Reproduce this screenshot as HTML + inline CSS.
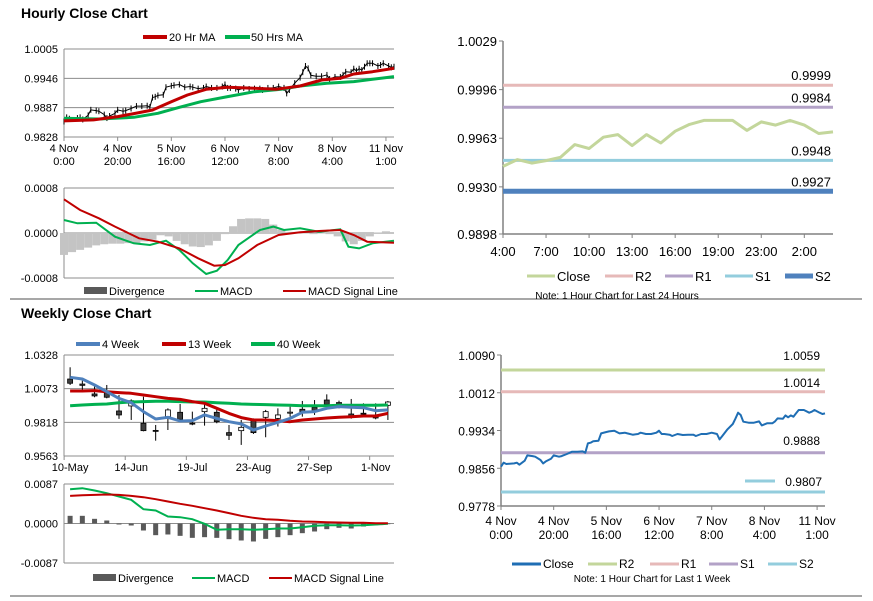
<!DOCTYPE html>
<html><head><meta charset="utf-8"><style>
html,body{margin:0;padding:0;background:#fff;}
svg{display:block;font-family:"Liberation Sans",Arial,sans-serif;}
</style></head><body>
<svg id="root" width="873" height="601" viewBox="0 0 873 601" xmlns="http://www.w3.org/2000/svg">
<text x="21" y="18" font-size="14" font-weight="bold" fill="#000">Hourly Close Chart</text>
<text x="21" y="318" font-size="14" font-weight="bold" fill="#000">Weekly Close Chart</text>
<line x1="10" y1="299" x2="862" y2="299" stroke="#8a8a8a" stroke-width="1.5"/>
<line x1="10" y1="596" x2="862" y2="596" stroke="#8a8a8a" stroke-width="1.5"/>
</svg>
<script>
// ===== Data: hourly (1 week) close =====
const hourIdx=[0,1,2,5,6,7,9,10,12,13,15,16,17,19,20,22,23,25,27,29,31,32,33,34,35,37,38,40,41,43,45,47,48,50,52,53,55,57,59,60,61,62,64,65,67,69,71,73,74,76,78,80,82,83,84,86,88,89,90,91,92,94,96,98,99,101,103,104,105,107,108,109,110,111,112,113,114,115,117,118,119,121,122,123];
const hourClose=[0.98592,0.98675,0.98647,0.98661,0.98675,0.98633,0.98716,0.98826,0.98812,0.98799,0.98730,0.98661,0.98702,0.98757,0.98826,0.98799,0.98812,0.98854,0.98902,0.98902,0.98909,0.98881,0.99074,0.99088,0.99116,0.99129,0.99281,0.99309,0.99322,0.99336,0.99281,0.99295,0.99281,0.99253,0.99267,0.99295,0.99267,0.99267,0.99295,0.99336,0.99267,0.99267,0.99253,0.99226,0.99267,0.99246,0.99253,0.99253,0.99226,0.99267,0.99267,0.99295,0.99267,0.99157,0.99226,0.99364,0.99474,0.99584,0.99708,0.99660,0.99522,0.99501,0.99501,0.99529,0.99446,0.99488,0.99488,0.99529,0.99591,0.99584,0.99653,0.99612,0.99653,0.99626,0.99694,0.99763,0.99763,0.99763,0.99708,0.99729,0.99763,0.99708,0.99681,0.99694];
const ma20Idx=[0,11,20,28,33,40,46,53,61,71,79,88,96,103,108,115,123];
const ma20Vals=[0.98603,0.98623,0.98690,0.98770,0.98824,0.98991,0.99125,0.99239,0.99280,0.99259,0.99239,0.99306,0.99427,0.99460,0.99547,0.99594,0.99661];
const ma50Idx=[0,13,26,35,43,51,61,71,81,88,98,108,115,123];
const ma50Vals=[0.98656,0.98643,0.98676,0.98757,0.98877,0.98991,0.99092,0.99192,0.99239,0.99306,0.99360,0.99394,0.99440,0.99494];
const hourTickIdx=[0,20,40,60,80,100,120];
const hourTickL1=["4 Nov","4 Nov","5 Nov","6 Nov","7 Nov","8 Nov","11 Nov"];
const hourTickL2=["0:00","20:00","16:00","12:00","8:00","4:00","1:00"];
const hPriceTicks=[1.0005,0.9946,0.9887,0.9828];
// hourly MACD
const sigIdx=[0,6,13,19,28,35,43,50,56,60,65,72,80,88,95,103,108,113,123];
const sigVals=[0.000599,0.000409,0.000261,0.000113,-0.000095,-0.000154,-0.000273,-0.00045,-0.000581,-0.000569,-0.00045,-0.000213,-0.000036,0.000012,0.000036,0.000053,-0.000036,-0.000154,-0.000172];
const macdIdx=[0,5,12,19,26,32,38,43,48,53,57,61,65,73,78,82,88,95,103,106,110,115,123];
const macdVals=[0.000231,0.000172,0.000184,-0.000065,-0.000184,-0.000213,-0.000136,-0.000302,-0.000539,-0.000729,-0.00067,-0.00048,-0.000213,0.000053,0.000113,0.000053,0.000083,0.000024,0.000065,-0.000243,-0.000273,-0.000184,-0.000136];
const divVals=[-0.00039,-0.00034,-0.00030,-0.00026,-0.00022,-0.0002,-0.00019,-0.00019,-0.00018,-0.00018,-0.00015,-0.00012,-0.00004,-0.00006,-0.00014,-0.0002,-0.00024,-0.00025,-0.00022,-0.00014,-0.00002,0.00012,0.00025,0.00026,0.00026,0.00025,0.00015,0.00006,0.00002,0.00002,-0.00001,-0.00002,-0.00001,-0.00002,-0.00006,-0.00015,-0.0002,-0.00014,-0.00006,0.00001,0.00003];
const hMacdTicks=[0.0008,0.0000,-0.0008];
const hMacdLabels=["0.0008","0.0000","-0.0008"];

// ===== Weekly =====
const weekLabels=["10-May","14-Jun","19-Jul","23-Aug","27-Sep","1-Nov"];
const weekLabelIdx=[0,5,10,15,20,25];
const wOpen=[1.0146,1.0108,1.0033,1.0043,0.9904,0.9942,0.9811,0.9757,0.9861,0.9894,0.9812,0.9899,0.9894,0.9740,0.9755,0.9836,0.9856,0.9848,0.9893,0.9917,0.9932,0.9987,0.9966,0.9881,0.9887,0.9866,0.9947];
const wClose=[1.0114,1.0098,1.0018,1.0008,0.9874,0.9982,0.9755,0.9753,0.9912,0.9841,0.9810,0.9924,0.9823,0.9720,0.9780,0.9740,0.9899,0.9874,0.9895,0.9899,0.9899,0.9954,0.9968,0.9856,0.9885,0.9851,0.9972];
const wHigh=[1.0235,1.0134,1.0108,1.0101,1.0025,0.9992,1.0012,0.9798,0.9924,0.9957,0.9899,0.9962,0.9924,0.9798,0.9836,0.9848,0.9912,0.9924,0.9937,0.9980,0.9987,1.0030,0.9982,0.9995,0.9962,0.9962,0.9980];
const wLow=[1.0101,1.0063,1.0008,1.0000,0.9844,0.9836,0.9750,0.9679,0.9760,0.9831,0.9796,0.9793,0.9811,0.9684,0.9647,0.9730,0.9705,0.9786,0.9861,0.9861,0.9874,0.9937,0.9924,0.9846,0.9861,0.9841,0.9836];
const ma4w=[1.0159,1.0146,1.0101,1.0050,0.9999,0.9967,0.9899,0.9843,0.9856,0.9828,0.9831,0.9874,0.9848,0.9823,0.9806,0.9760,0.9790,0.9818,0.9848,0.9894,0.9899,0.9924,0.9937,0.9932,0.9929,0.9906,0.9912];
const ma13w=[1.0055,1.0055,1.0058,1.0050,1.0043,1.0038,1.0025,1.0012,0.9999,0.9992,0.9975,0.9962,0.9924,0.9886,0.9854,0.9836,0.9836,0.9831,0.9823,0.9836,0.9843,0.9851,0.9856,0.9861,0.9866,0.9866,0.9886];
const ma40w=[0.9944,0.9949,0.9954,0.9957,0.9967,0.9972,0.9975,0.9977,0.9977,0.9975,0.9972,0.9972,0.9967,0.9962,0.9957,0.9954,0.9952,0.9949,0.9947,0.9944,0.9944,0.9944,0.9947,0.9947,0.9947,0.9947,0.9949];
const wPriceTicks=[1.0328,1.0073,0.9818,0.9563];
const wMacd=[0.00756,0.00778,0.00727,0.00668,0.00595,0.00521,0.00316,0.00286,0.00154,0.00139,0.00095,-0.00007,-0.00139,-0.00125,-0.00125,-0.00139,-0.00125,-0.0011,-0.0011,-0.00081,-0.00051,-0.00037,-0.00037,-0.00044,-0.00037,-0.00022,-0.00007];
const wSignal=[0.00609,0.00624,0.00631,0.00639,0.00631,0.00609,0.0058,0.00536,0.00484,0.00433,0.00389,0.00338,0.00286,0.00228,0.00169,0.00125,0.00095,0.00081,0.00059,0.00044,0.00037,0.00029,0.00022,0.00015,0.00015,0.00007,0.00007];
const wDiv=[0.00169,0.00169,0.00103,0.00066,-0.00022,-0.00044,-0.00154,-0.00257,-0.00242,-0.00272,-0.00316,-0.00301,-0.00316,-0.00345,-0.00374,-0.00396,-0.00338,-0.00301,-0.00257,-0.00213,-0.00176,-0.00125,-0.00095,-0.0011,-0.00066,-0.00037,-0.00015];
const wMacdTicks=[0.0087,0.0000,-0.0087];
const wMacdLabels=["0.0087","0.0000","-0.0087"];

// ===== 24h pivot chart =====
const dayClose=[0.99439,0.99485,0.99461,0.99478,0.99500,0.99587,0.99560,0.99637,0.99655,0.99580,0.99655,0.99598,0.99678,0.99724,0.99751,0.99751,0.99751,0.99683,0.99741,0.99719,0.99751,0.99719,0.99662,0.99673];
const dayTickLabels=["4:00","7:00","10:00","13:00","16:00","19:00","23:00","2:00"];
const dayTickIdx=[0,3,6,9,12,15,18,21];
const dayYTicks=[1.0029,0.9996,0.9963,0.9930,0.9898];
const dayLevels=[0.9999,0.9984,0.9948,0.9927];
const dayLevelNames=["R2","R1","S1","S2"];
// ===== 1 week pivot chart =====
const wkYTicks=[1.0090,1.0012,0.9934,0.9856,0.9778];
const wkLevels=[1.0059,1.0014,0.9888,0.9807];
const wkLevelNames=["R2","R1","S1","S2"];

const NS='http://www.w3.org/2000/svg';
const root=document.getElementById('root');
function mk(tag,attrs,parent){const e=document.createElementNS(NS,tag);for(const k in attrs)e.setAttribute(k,attrs[k]);(parent||root).appendChild(e);return e;}
function tx(str,x,y,size,anchor,parent){const e=mk('text',{x:x,y:y,'font-size':size,'text-anchor':anchor||'start',fill:'#000'},parent);e.textContent=str;return e;}
function pathFrom(xs,ys){let d='';for(let i=0;i<xs.length;i++)d+=(i?'L':'M')+xs[i].toFixed(1)+' '+ys[i].toFixed(1);return d;}
function fmt(v){return v.toFixed(4);}

// ---------- Hourly price chart ----------
(function(){
const g=mk('g',{});


const X0=64,X1=394,N=123,Y0=49,Y1=137,VMAX=1.0005,VMIN=0.9828;
const x=i=>X0+i*(X1-X0)/N, y=v=>Y0+(VMAX-v)/(VMAX-VMIN)*(Y1-Y0);
hPriceTicks.forEach(t=>{
  const l=mk('line',{x1:X0,x2:X1,y1:y(t),y2:y(t),stroke:'#8c8c8c','stroke-width':1},g);
  
  
  const lb=tx(fmt(t),58,y(t)+4,11,'end',g);
  
  
});
mk('line',{x1:X0,x2:X0,y1:Y0,y2:Y1,stroke:'#8c8c8c','stroke-width':1},g);
hourTickIdx.forEach((t,k)=>{
  mk('line',{x1:x(t),x2:x(t),y1:Y1,y2:Y1+4,stroke:'#8c8c8c'},g);
  const a=tx(hourTickL1[k],x(t),Y1+15,11,'middle',g);
  
  
  const b=tx(hourTickL2[k],x(t),Y1+28,11,'middle',g);
  
  
});
hourIdx.forEach((t,k)=>{
  const bar=mk('line',{x1:x(t),x2:x(t),y1:y(hourClose[k])-3,y2:y(hourClose[k])+3,stroke:'#000','stroke-width':1},g);
  
  
});
const cp=mk('path',{d:pathFrom(hourIdx.map(x),hourClose.map(y)),fill:'none',stroke:'#000','stroke-width':1},g);


const p50=mk('path',{d:pathFrom(ma50Idx.map(x),ma50Vals.map(y)),fill:'none',stroke:'#00b050','stroke-width':3,'stroke-linejoin':'round'},g);


const p20=mk('path',{d:pathFrom(ma20Idx.map(x),ma20Vals.map(y)),fill:'none',stroke:'#c00000','stroke-width':3,'stroke-linejoin':'round'},g);


// legend
const l1=mk('line',{x1:143,x2:167,y1:37,y2:37,stroke:'#c00000','stroke-width':4},g);


const t1=tx('20 Hr MA',169,41,11,'start',g);


const l2=mk('line',{x1:225,x2:250,y1:37,y2:37,stroke:'#00b050','stroke-width':4},g);


const t2=tx('50 Hrs MA',251,41,11,'start',g);


})();

// ---------- Hourly MACD ----------
(function(){
const g=mk('g',{});


const X0=64,X1=394,N=123,Y0=188,Y1=278,VMAX=0.0008,VMIN=-0.0008;
const x=i=>X0+i*(X1-X0)/N, y=v=>Y0+(VMAX-v)/(VMAX-VMIN)*(Y1-Y0);
hMacdTicks.forEach((t,k)=>{
  mk('line',{x1:X0,x2:X1,y1:y(t),y2:y(t),stroke:'#8c8c8c','stroke-width':1},g);
  const lb=tx(hMacdLabels[k],58,y(t)+4,11,'end',g);
  
  
});
mk('line',{x1:X0,x2:X0,y1:Y0,y2:Y1,stroke:'#8c8c8c'},g);
divVals.forEach((v,k)=>{
  const i=k*3;
  const r=mk('rect',{x:x(i)-4,width:8,y:Math.min(y(v),y(0)),height:Math.abs(y(v)-y(0)),fill:'#c4c4c4'},g);
  
  
});
const pm=mk('path',{d:pathFrom(macdIdx.map(x),macdVals.map(y)),fill:'none',stroke:'#00b050','stroke-width':2},g);


const ps=mk('path',{d:pathFrom(sigIdx.map(x),sigVals.map(y)),fill:'none',stroke:'#c00000','stroke-width':2},g);


const a=mk('rect',{x:84,y:287,width:23,height:7,fill:'#595959'},g);


const at=tx('Divergence',109,295,11,'start',g);


const b=mk('line',{x1:195,x2:218,y1:291,y2:291,stroke:'#00b050','stroke-width':2},g);


const bt=tx('MACD',220,295,11,'start',g);


const c=mk('line',{x1:283,x2:306,y1:291,y2:291,stroke:'#c00000','stroke-width':2},g);


const ct=tx('MACD Signal Line',308,295,11,'start',g);


})();

// ---------- Weekly price chart ----------
(function(){
const g=mk('g',{});


const X0=64,X1=394,N=27,Y0=355,Y1=456,VMAX=1.0328,VMIN=0.9563;
const x=i=>X0+(i+0.5)*(X1-X0)/N, y=v=>Y0+(VMAX-v)/(VMAX-VMIN)*(Y1-Y0);
wPriceTicks.forEach(t=>{
  mk('line',{x1:X0,x2:X1,y1:y(t),y2:y(t),stroke:'#8c8c8c','stroke-width':1},g);
  const lb=tx(fmt(t),58,y(t)+4,11,'end',g);
  
  
});
mk('line',{x1:X0,x2:X0,y1:Y0,y2:Y1,stroke:'#8c8c8c'},g);
weekLabelIdx.forEach((t,k)=>{
  mk('line',{x1:x(t)-6,x2:x(t)-6,y1:Y1,y2:Y1+4,stroke:'#8c8c8c'},g);
  const lb=tx(weekLabels[k],x(t),Y1+15,11,'middle',g);
  
  
});
wOpen.forEach((o,i)=>{
  const c=wClose[i];
  const w=mk('line',{x1:x(i),x2:x(i),y1:y(wHigh[i]),y2:y(wLow[i]),stroke:'#000','stroke-width':1},g);
  
  
  const top=y(Math.max(o,c)),bot=y(Math.min(o,c));
  const r=mk('rect',{x:x(i)-2.5,width:5,y:top,height:Math.max(1,bot-top),fill:c<o?'#404040':'#fff',stroke:'#000','stroke-width':0.8},g);
  
  
});
const idx=wOpen.map((_,i)=>i);
[[ma40w,'#00b050','ma-40-week-line'],[ma13w,'#c00000','ma-13-week-line'],[ma4w,'#4f81bd','ma-4-week-line']].forEach(s=>{
  const p=mk('path',{d:pathFrom(idx.map(x),s[0].map(y)),fill:'none',stroke:s[1],'stroke-width':3,'stroke-linejoin':'round'},g);
  
  
});
const leg=[[76,102,'#4f81bd','4 Week'],[162,188,'#c00000','13 Week'],[251,277,'#00b050','40 Week']];
leg.forEach(L=>{
  const s=mk('line',{x1:L[0],x2:L[0]+24,y1:344,y2:344,stroke:L[2],'stroke-width':4},g);
  
  
  const t=tx(L[3],L[1],348,11,'start',g);
  
  
});
})();

// ---------- Weekly MACD ----------
(function(){
const g=mk('g',{});


const X0=64,X1=394,N=27,Y0=484,Y1=563,VMAX=0.0087,VMIN=-0.0087;
const x=i=>X0+(i+0.5)*(X1-X0)/N, y=v=>Y0+(VMAX-v)/(VMAX-VMIN)*(Y1-Y0);
wMacdTicks.forEach((t,k)=>{
  mk('line',{x1:X0,x2:X1,y1:y(t),y2:y(t),stroke:'#8c8c8c','stroke-width':1},g);
  const lb=tx(wMacdLabels[k],58,y(t)+4,11,'end',g);
  
  
});
mk('line',{x1:X0,x2:X0,y1:Y0,y2:Y1,stroke:'#8c8c8c'},g);
wDiv.forEach((v,i)=>{
  const r=mk('rect',{x:x(i)-2.5,width:5,y:Math.min(y(v),y(0)),height:Math.abs(y(v)-y(0)),fill:'#595959'},g);
  
  
});
const idx=wMacd.map((_,i)=>i);
const pm=mk('path',{d:pathFrom(idx.map(x),wMacd.map(y)),fill:'none',stroke:'#00b050','stroke-width':2},g);


const ps=mk('path',{d:pathFrom(idx.map(x),wSignal.map(y)),fill:'none',stroke:'#c00000','stroke-width':2},g);


const a=mk('rect',{x:93,y:574,width:23,height:7,fill:'#595959'},g);


const at=tx('Divergence',118,582,11,'start',g);


const b=mk('line',{x1:192,x2:215,y1:578,y2:578,stroke:'#00b050','stroke-width':2},g);


const bt=tx('MACD',217,582,11,'start',g);


const c=mk('line',{x1:269,x2:292,y1:578,y2:578,stroke:'#c00000','stroke-width':2},g);


const ct=tx('MACD Signal Line',294,582,11,'start',g);


})();

// ---------- 24h pivot chart ----------
(function(){
const g=mk('g',{});


const X0=503,X1=833,N=23,Y0=41,Y1=234,VMAX=1.0029,VMIN=0.9898;
const x=i=>X0+i*(X1-X0)/N, y=v=>Y0+(VMAX-v)/(VMAX-VMIN)*(Y1-Y0);
mk('line',{x1:X0,x2:X0,y1:Y0,y2:Y1,stroke:'#808080','stroke-width':1.5},g);
mk('line',{x1:X0,x2:X1,y1:Y1,y2:Y1,stroke:'#808080','stroke-width':1.5},g);
dayYTicks.forEach(t=>{
  mk('line',{x1:X0-4,x2:X0,y1:y(t),y2:y(t),stroke:'#808080'},g);
  const lb=tx(fmt(t),X0-6,y(t)+5,13,'end',g);
  
  
});
dayTickIdx.forEach((t,k)=>{
  mk('line',{x1:x(t),x2:x(t),y1:Y1,y2:Y1+4,stroke:'#808080'},g);
  const lb=tx(dayTickLabels[k],x(t),Y1+22,13,'middle',g);
  
  
});
const cols=['#e6b9b8','#b3a2c7','#93cddd','#4f81bd'];
const widths=[3,3,3,5];
dayLevels.forEach((v,k)=>{
  const l=mk('line',{x1:X0,x2:X1,y1:y(v),y2:y(v),stroke:cols[k],'stroke-width':widths[k]},g);
  
  
  const t=tx(fmt(v),X1-2,y(v)-5,13,'end',g);
  
  
});
const idx=dayClose.map((_,i)=>i);
const p=mk('path',{d:pathFrom(idx.map(x),dayClose.map(y)),fill:'none',stroke:'#c3d69b','stroke-width':3,'stroke-linejoin':'round'},g);


const leg=[[527,'#c3d69b',3,'Close'],[605,'#e6b9b8',3,'R2'],[665,'#b3a2c7',3,'R1'],[725,'#93cddd',3,'S1'],[785,'#4f81bd',5,'S2']];
leg.forEach(L=>{
  const s=mk('line',{x1:L[0],x2:L[0]+28,y1:276,y2:276,stroke:L[1],'stroke-width':L[2]},g);
  
  
  const t=tx(L[3],L[0]+30,281,13,'start',g);
  
  
});
const n=tx('Note: 1 Hour Chart for Last 24 Hours',617,299,10,'middle',g);


})();

// ---------- 1 week pivot chart ----------
(function(){
const g=mk('g',{});


const X0=501,X1=825,N=123,Y0=355,Y1=506,VMAX=1.0090,VMIN=0.9778;
const x=i=>X0+i*(X1-X0)/N, y=v=>Y0+(VMAX-v)/(VMAX-VMIN)*(Y1-Y0);
mk('line',{x1:X0,x2:X0,y1:Y0,y2:Y1,stroke:'#808080','stroke-width':1.5},g);
mk('line',{x1:X0,x2:X1,y1:Y1,y2:Y1,stroke:'#808080','stroke-width':1.5},g);
wkYTicks.forEach(t=>{
  mk('line',{x1:X0-4,x2:X0,y1:y(t),y2:y(t),stroke:'#808080'},g);
  const lb=tx(fmt(t),X0-6,y(t)+5,12,'end',g);
  
  
});
hourTickIdx.forEach((t,k)=>{
  mk('line',{x1:x(t),x2:x(t),y1:Y1,y2:Y1+4,stroke:'#808080'},g);
  const a=tx(hourTickL1[k],x(t),Y1+19,12,'middle',g);
  
  
  const b=tx(hourTickL2[k],x(t),Y1+33,12,'middle',g);
  
  
});
const cols=['#c3d69b','#e6b9b8','#b3a2c7','#93cddd'];
wkLevels.forEach((v,k)=>{
  const l=mk('line',{x1:X0,x2:X1,y1:y(v),y2:y(v),stroke:cols[k],'stroke-width':3},g);
  
  
});
const lblPos=[[820,360],[820,387],[820,445],[822,486]];
wkLevels.forEach((v,k)=>{
  const t=tx(fmt(v),lblPos[k][0],lblPos[k][1],12,'end',g);
  
  
});
mk('line',{x1:745,x2:775,y1:481,y2:481,stroke:'#93cddd','stroke-width':3},g);
const p=mk('path',{d:pathFrom(hourIdx.map(x),hourClose.map(y)),fill:'none',stroke:'#1f6eb4','stroke-width':2,'stroke-linejoin':'round'},g);


const leg=[[512,'#1f6eb4','Close'],[588,'#c3d69b','R2'],[650,'#e6b9b8','R1'],[709,'#b3a2c7','S1'],[768,'#93cddd','S2']];
leg.forEach(L=>{
  const s=mk('line',{x1:L[0],x2:L[0]+29,y1:564,y2:564,stroke:L[1],'stroke-width':3},g);
  
  
  const t=tx(L[2],L[0]+31,568,12,'start',g);
  
  
});
const n=tx('Note: 1 Hour Chart for Last 1 Week',652,582,10,'middle',g);


})();
</script>
</body></html>
